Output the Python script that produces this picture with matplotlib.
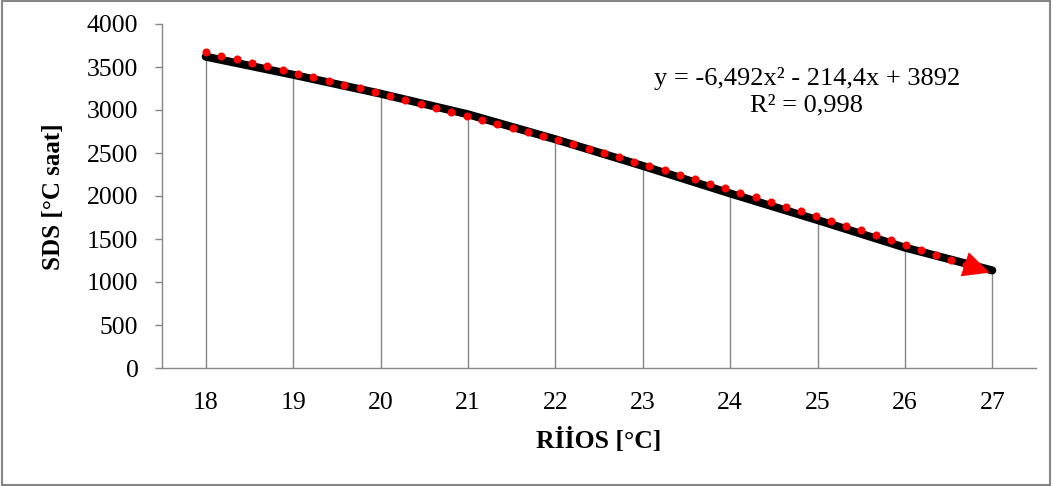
import numpy as np
import matplotlib.pyplot as plt
from matplotlib.patches import FancyArrowPatch, Rectangle

plt.rcParams['font.family'] = ['Liberation Serif', 'DejaVu Serif']

#RİİOS categories and SDS values
temps = [18, 19, 20, 21, 22, 23, 24, 25, 26, 27]
sds = [3620, 3410, 3190, 2950, 2660, 2350, 2030, 1720, 1400, 1135]

#trendline coefficients as printed in the chart (x = 1..10)
coef = [-6.492, -214.4, 3892]

W, H = 1053, 486
fig = plt.figure(figsize=(W / 100, H / 100), dpi=100)
ax = fig.add_axes([162 / W, 1 - 368 / H, 874 / W, 344 / H])

xpos = np.arange(len(temps))
gray = '#868686'

ax.set_xlim(-0.5, len(temps) - 0.5)
ax.set_ylim(0, 4000)

#drop lines
ax.vlines(xpos, 0, sds, color=gray, lw=1.0, zorder=1)

#data line
ax.plot(xpos, sds, color='black', lw=5.8, solid_capstyle='round', zorder=2)

#polynomial trendline: red dots spaced evenly along the curve on screen
xt = np.linspace(0, len(temps) - 1, 400)
yt = np.polyval(coef, xt + 1)
disp = ax.transData.transform(np.column_stack([xt, yt]))
seg = np.hypot(np.diff(disp[:, 0]), np.diff(disp[:, 1]))
arc = np.concatenate([[0], np.cumsum(seg)])
step = 15.8
sd = np.arange(0, arc[-1] - 22, step)
dx = np.interp(sd, arc, disp[:, 0])
dy = np.interp(sd, arc, disp[:, 1])
dots = ax.transData.inverted().transform(np.column_stack([dx, dy]))
ax.plot(dots[:, 0], dots[:, 1], 'o', color='red', ms=5.8, mew=0, zorder=3)

arr = FancyArrowPatch((xt[-25], yt[-25]), (xt[-1], yt[-1]),
                      arrowstyle='-|>,head_length=1.35,head_width=0.65',
                      mutation_scale=14, color='red', lw=0, zorder=4)
ax.add_patch(arr)

ax.set_yticks(np.arange(0, 4001, 500))
ax.set_xticks(xpos)
ax.set_xticklabels([str(t) for t in temps])

for s in ['top', 'right']:
    ax.spines[s].set_visible(False)
for s in ['left', 'bottom']:
    ax.spines[s].set_color(gray)
    ax.spines[s].set_linewidth(1.0)

ax.tick_params(axis='y', length=5, width=1, color=gray, pad=12, labelsize=18.5)
ax.tick_params(axis='x', length=0, pad=17, labelsize=18.5)

fig.text(54 / W, 1 - 197 / H, 'SDS [°C saat]', rotation=90, ha='center', va='center',
         fontsize=18, fontweight='bold')
fig.text(599 / W, 1 - 440 / H, 'RİİOS [°C]', ha='center', va='center',
         fontsize=18.5, fontweight='bold')

fig.text(807 / W, 1 - 79 / H, 'y = -6,492x² - 214,4x + 3892',
         ha='center', va='center', fontsize=19)
fig.text(807 / W, 1 - 105 / H, 'R² = 0,998',
         ha='center', va='center', fontsize=19)

#outer chart border
fig.patches.append(Rectangle((0.002, 0.003), 0.995, 0.994, transform=fig.transFigure,
                             fill=False, edgecolor=gray, lw=1.5))

fig.savefig('out.png', dpi=100)
